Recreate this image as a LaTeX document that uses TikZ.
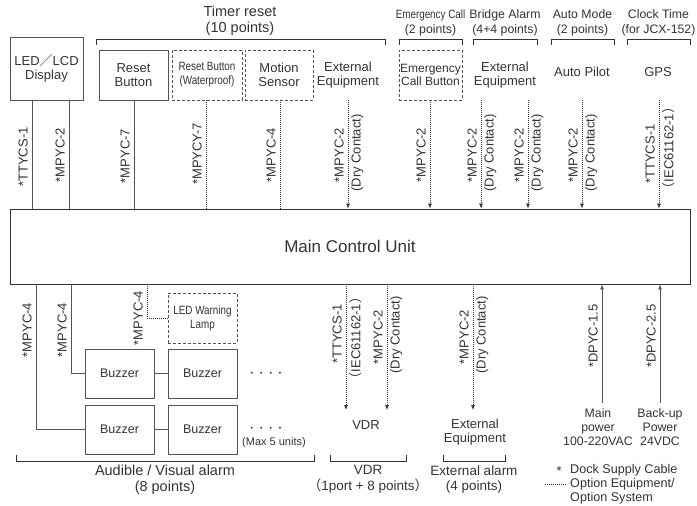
\documentclass[tikz,border=0pt]{standalone}
\usepackage{fontspec}
\setmainfont{Liberation Sans}
\newfontfamily\condf[FakeStretch=0.82]{Liberation Sans}
\newfontfamily\cjkf{Noto Sans CJK JP}
\usetikzlibrary{arrows.meta}
\definecolor{ink}{gray}{0.2}
\definecolor{edge}{gray}{0.33}
\begin{document}
\begin{tikzpicture}[x=1pt,y=-1pt,
  every node/.style={text=ink,font=\fontsize{13}{15}\selectfont},
  box/.style={draw=edge,line width=0.8pt,align=center,inner sep=0pt},
  dbox/.style={box,dash pattern=on 3pt off 2pt},
  solidline/.style={draw=edge,line width=0.8pt},
  optline/.style={draw=ink,line width=0.7pt,dash pattern=on 1pt off 1pt},
  arr/.style={-{Latex[length=5pt,width=4pt]}},
  lab/.style={rotate=90,inner sep=2pt},
  bracket/.style={draw=ink,line width=0.8pt},
  cond/.style={font=\condf\fontsize{12}{14}\selectfont},
  big/.style={font=\fontsize{14.5}{16}\selectfont},
  mid/.style={font=\fontsize{13.5}{15.5}\selectfont},
  small/.style={font=\fontsize{12.3}{15}\selectfont},
  dotrow/.style={font=\fontsize{7}{8}\selectfont,inner sep=0pt},
  bz/.style={box,minimum width=69pt,minimum height=49pt,font=\fontsize{12.5}{14}\selectfont}
]
\useasboundingbox (0,0) rectangle (697,506);

% ---------- main unit
\node[box,draw=ink,minimum width=680pt,minimum height=75pt,font=\fontsize{17}{20}\selectfont] (mcu) at (350,246.5) {Main Control Unit};

% ---------- top devices
\node[box,minimum width=73pt,minimum height=63pt] (led) at (46.5,68.5) {LED{\cjkf ／}LCD\\[-1pt]Display};
\node[box,minimum width=69pt,minimum height=50pt] (reset) at (133.5,75) {Reset\\[-1pt]Button};
\node[dbox,minimum width=70pt,minimum height=50pt,cond] (resetwp) at (207,75) {Reset Button\\(Waterproof)};
\node[dbox,minimum width=68pt,minimum height=50pt] (motion) at (279,75) {Motion\\[-1pt]Sensor};
\node[align=center] (ext1) at (348,75) {External\\[-1pt]Equipment};
\node[dbox,minimum width=63pt,minimum height=50pt,font=\fontsize{12}{14}\selectfont] (emg) at (430.5,75) {Emergency\\[-1pt]Call Button};
\node[align=center] (ext2) at (505,75) {External\\[-1pt]Equipment};
\node (pilot) at (582,72) {Auto Pilot};
\node (gps) at (658,72) {GPS};

% top headers
\node[align=center,big] (hTimer) at (240,21) {Timer reset\\(10 points)};
\node[font=\condf\fontsize{12}{14}\selectfont] (hEmg) at (430.5,15) {Emergency Call};
\node[small] (hEmg2) at (430.5,30) {(2 points)};
\node[align=center,small] (hBridge) at (505,22.5) {Bridge Alarm\\(4+4 points)};
\node[align=center,small] (hAuto) at (582.5,22.5) {Auto Mode\\(2 points)};
\node[align=center,small] (hClock) at (658.5,22.5) {Clock Time\\(for JCX-152)};

\draw[bracket] (96,45) -- (96,39) -- (385,39) -- (385,45);
\draw[bracket] (399,45) -- (399,39) -- (462,39) -- (462,45);
\draw[bracket] (473,45) -- (473,39) -- (537,39) -- (537,45);
\draw[bracket] (551,45) -- (551,39) -- (614,39) -- (614,45);
\draw[bracket] (627,45) -- (627,39) -- (690,39) -- (690,45);

% top connectors
\coordinate (t1) at (32,100);
\coordinate (t2) at (69,100);
\coordinate (t3) at (134,100);
\coordinate (t4) at (206,100);
\coordinate (t5) at (280,100);
\coordinate (t6) at (348,100);
\coordinate (t7) at (430,100);
\coordinate (t8) at (481,100);
\coordinate (t9) at (528,100);
\coordinate (t10) at (582,100);
\coordinate (t11) at (659,100);

\draw[solidline] (t1) -- (t1 |- mcu.north);
\draw[solidline] (t2) -- (t2 |- mcu.north);
\draw[solidline] (t3) -- (t3 |- mcu.north);
\draw[optline] (t4) -- (t4 |- mcu.north);
\draw[optline] (t5) -- (t5 |- mcu.north);
\foreach \c in {t6,t7,t8,t9,t10,t11}
  \draw[optline,arr] (\c) -- (\c |- mcu.north);

\node[lab,anchor=south] (l1) at (30,157) {*TTYCS-1};
\node[lab,anchor=south] (l2) at (67,155) {*MPYC-2};
\node[lab,anchor=south] (l3) at (132,156) {*MPYC-7};
\node[lab,anchor=south] (l4) at (204,154) {*MPYCY-7};
\node[lab,anchor=south] (l5) at (278,155) {*MPYC-4};
\node[lab,anchor=south] (l6) at (346,155) {*MPYC-2};
\node[lab,anchor=north] (l6b) at (349,153) {(Dry Contact)};
\node[lab,anchor=south] (l7) at (428,155) {*MPYC-2};
\node[lab,anchor=south] (l8) at (479,155) {*MPYC-2};
\node[lab,anchor=north] (l8b) at (482,153) {(Dry Contact)};
\node[lab,anchor=south] (l9) at (526,155) {*MPYC-2};
\node[lab,anchor=north] (l9b) at (529,153) {(Dry Contact)};
\node[lab,anchor=south] (l10) at (580,155) {*MPYC-2};
\node[lab,anchor=north] (l10b) at (583,153) {(Dry Contact)};
\node[lab,anchor=south] (l11) at (657,154) {*TTYCS-1};
\node[lab,anchor=north] (l11b) at (660,148) {{\cjkf（}IEC61162-1{\cjkf）}};

% ---------- bottom left: alarms
\node[dbox,minimum width=69pt,minimum height=50pt,cond] (lamp) at (202.5,318) {LED Warning\\Lamp};
\node[bz] (bz1) at (119.5,373.5) {Buzzer};
\node[bz] (bz2) at (202.5,373.5) {Buzzer};
\node[bz] (bz3) at (119.5,429.5) {Buzzer};
\node[bz] (bz4) at (202.5,429.5) {Buzzer};

\coordinate (b1) at (36,284);
\coordinate (b2) at (71,284);
\coordinate (b3) at (147,284);
\draw[solidline] (b1) |- (bz3.west);
\draw[solidline] (b2) |- (bz1.west);
\draw[optline] (b3) |- (lamp.west);
\draw[solidline] (bz1) -- (bz2);
\draw[solidline] (bz3) -- (bz4);

\node[lab,anchor=south] (m1) at (34,330) {*MPYC-4};
\node[lab,anchor=south] (m2) at (69,330) {*MPYC-4};
\node[lab,anchor=south] (m3) at (145,318) {*MPYC-4};

\node[dotrow] (dots1) at (266,374) {\textbullet\hspace{7pt}\textbullet\hspace{7pt}\textbullet\hspace{7pt}\textbullet};
\node[dotrow] (dots2) at (266,429) {\textbullet\hspace{7pt}\textbullet\hspace{7pt}\textbullet\hspace{7pt}\textbullet};
\node[anchor=west,inner sep=0pt,font=\fontsize{11}{13}\selectfont] (max5) at (242,443) {(Max 5 units)};

% ---------- VDR and external alarm
\coordinate (v1) at (346,284);
\coordinate (v2) at (387,284);
\coordinate (e1) at (473,284);
\node (vdr) at (366,425) {VDR};
\node[align=center] (ext3) at (475,432) {External\\[-1pt]Equipment};
\draw[optline,arr] (v1) -- (v1 |- 0,410);
\draw[optline,arr] (v2) -- (v2 |- 0,410);
\draw[optline,arr] (e1) -- (e1 |- 0,410);

\node[lab,anchor=south] (n1) at (344,334) {*TTYCS-1};
\node[lab,anchor=north] (n1b) at (347,338) {{\cjkf（}IEC61162-1{\cjkf）}};
\node[lab,anchor=south] (n2) at (385,337) {*MPYC-2};
\node[lab,anchor=north] (n2b) at (388,335) {(Dry Contact)};
\node[lab,anchor=south] (n3) at (471,337) {*MPYC-2};
\node[lab,anchor=north] (n3b) at (474,335) {(Dry Contact)};

% ---------- power
\node[align=center,font=\fontsize{12.3}{14}\selectfont] (mainp) at (598,427) {Main\\power\\100-220VAC};
\node[align=center,font=\fontsize{12.3}{14}\selectfont] (backp) at (660,427) {Back-up\\Power\\24VDC};
\coordinate (p1) at (602,403);
\coordinate (p2) at (660,403);
\draw[solidline,arr] (p1) -- (p1 |- mcu.south);
\draw[solidline,arr] (p2) -- (p2 |- mcu.south);
\node[lab,anchor=south] (d1) at (600,336) {*DPYC-1.5};
\node[lab,anchor=south] (d2) at (658,336) {*DPYC-2.5};

% ---------- bottom brackets
\draw[bracket] (16,455) -- (16,461) -- (314,461) -- (314,455);
\draw[bracket] (330,455) -- (330,461) -- (406,461) -- (406,455);
\draw[bracket] (443,455) -- (443,461) -- (505,461) -- (505,455);
\node[align=center,big] (fAud) at (165,479.5) {Audible / Visual alarm\\(8 points)};
\node[align=center,mid] (fVdr) at (368,479.5) {VDR\\{\cjkf（}1port + 8 points{\cjkf）}};
\node[align=center,mid] (fExt) at (474,479.5) {External alarm\\(4 points)};

% ---------- legend
\node[anchor=east,inner sep=0pt] (star) at (562,471) {*};
\node[anchor=west,inner sep=0pt,font=\fontsize{12.6}{14}\selectfont] (leg1) at (570,470) {Dock Supply Cable};
\coordinate (ls) at (545,484);
\coordinate (le) at (566,484);
\draw[optline] (ls) -- (le);
\node[anchor=west,inner sep=0pt,align=left,font=\fontsize{12.6}{14}\selectfont] (leg2) at (570,491) {Option Equipment/\\Option System};
\end{tikzpicture}
\end{document}
